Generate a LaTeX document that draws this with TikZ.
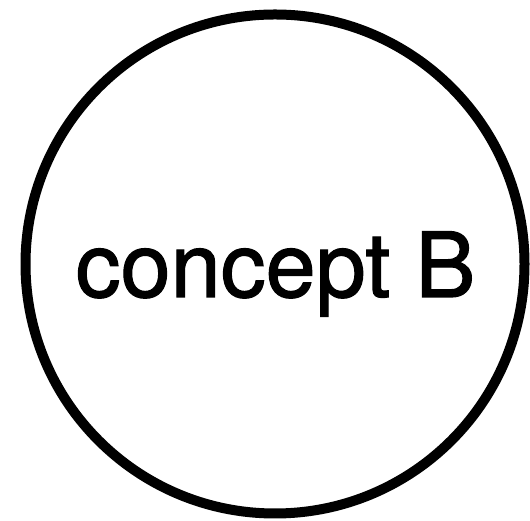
\documentclass[tikz,border=0pt]{standalone}
\usepackage{fontspec}
\setmainfont{TeX Gyre Heros}
\newfontfamily\conceptfont[FakeBold=1.3]{TeX Gyre Heros}
\usetikzlibrary{positioning}

\tikzset{
  concept/.style={draw=black, line width=10pt, circle, minimum size=499pt, inner sep=0pt},
  conceptlabel/.style={anchor=base, inner sep=0pt, font=\conceptfont\fontsize{90}{100}\selectfont}
}

\begin{document}
\begin{tikzpicture}[x=1pt,y=1pt]
  \useasboundingbox (0,0) rectangle (530,521);
  % the circle
  \node[concept] (conceptB) at (275,257) {};
  % its label
  \node[conceptlabel] (conceptBlabel) at ([xshift=0.5pt,yshift=-33pt]conceptB.center) {concept B};
\end{tikzpicture}
\end{document}
